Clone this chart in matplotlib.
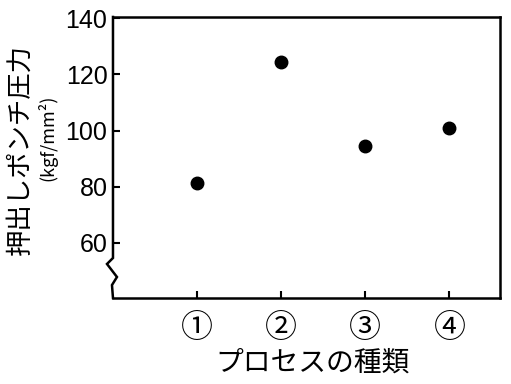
import matplotlib
matplotlib.use("Agg")
import matplotlib.pyplot as plt

categories = ["①", "②", "③", "④"]
positions = [1, 2, 3, 4]
pressure = [81.4, 124.2, 94.6, 101.0]
yticks = [60, 80, 100, 120, 140]

plt.rcParams['font.family'] = ['Noto Sans CJK JP', 'DejaVu Sans']

fig = plt.figure(figsize=(5.11, 3.84), dpi=100)
ax = fig.add_axes([0.2211, 0.224, 0.7573, 0.7318])

ax.plot(positions, pressure, 'o', color='black', markersize=9, linestyle='none')

ax.set_xlim(0, 4.6)
ax.set_ylim(40.4, 140.4)
ax.set_xticks(positions)
ax.set_xticklabels(categories, fontsize=23)
ax.set_yticks(yticks)
ax.set_yticklabels([str(v) for v in yticks], fontsize=18, family='Liberation Sans')

for s in ['top', 'right', 'bottom']:
    ax.spines[s].set_linewidth(1.8)
ax.spines['left'].set_visible(False)

# left spine with axis-break zigzag
bx = [0, 0, -0.0155, 0.0103, -0.0026, 0]
by = [1, 0.1423, 0.121, 0.0747, 0.046, 0]
ax.plot(bx, by, color='black', linewidth=1.8, transform=ax.transAxes, clip_on=False,
        solid_joinstyle='miter')

ax.tick_params(axis='both', direction='in', length=5, width=1.5, top=False, right=False)
ax.tick_params(axis='y', pad=4)
ax.tick_params(axis='x', pad=10)

fig.text(0.612, 0.055, "プロセスの種類", fontsize=20, ha='center', va='center')
fig.text(0.040, 0.61, "押出しポンチ圧力", fontsize=19, rotation=90, ha='center', va='center')
fig.text(0.093, 0.64, "(kgf/mm²)", fontsize=13, rotation=90, ha='center', va='center')

fig.savefig("out.png", dpi=100)
